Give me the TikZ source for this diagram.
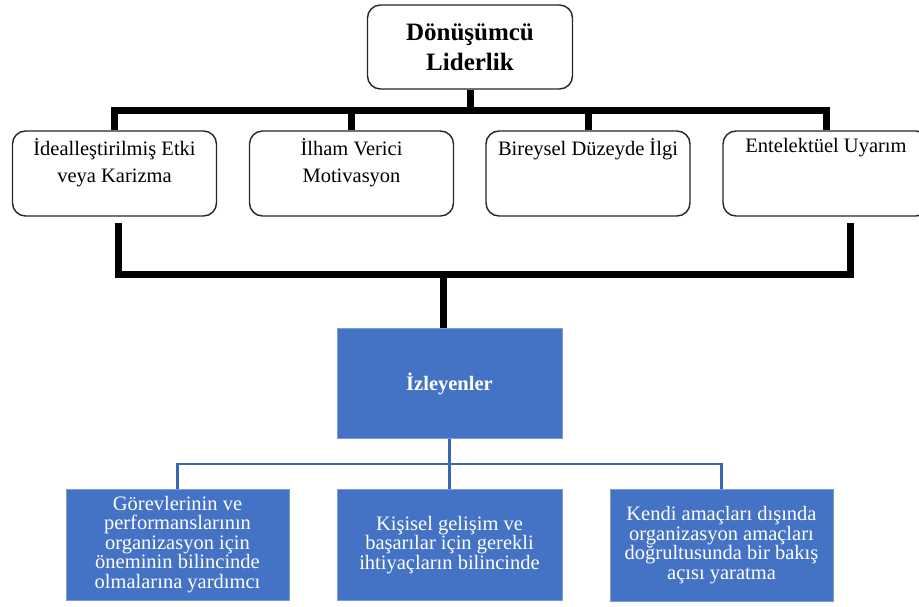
\documentclass[tikz,border=0pt]{standalone}
\usepackage{fontspec}
\newfontfamily\timesfont{Liberation Serif}
\usetikzlibrary{positioning}

\definecolor{followblue}{HTML}{4472C4}
\definecolor{lineblue}{HTML}{3F65AD}

\begin{document}
\begin{tikzpicture}[x=1pt, y=-1pt,
    leader/.style={rectangle, rounded corners=13pt, draw=black!85, line width=1.4pt, fill=white, minimum width=205pt, minimum height=84pt, align=center, font=\timesfont\fontsize{25}{30}\selectfont\bfseries},
    dim/.style={rectangle, rounded corners=13pt, draw=black!85, line width=1.4pt, fill=white, minimum width=204pt, minimum height=85pt},
    dimtext/.style={anchor=north, align=center, inner ysep=8pt, font=\timesfont\fontsize{20.5}{27}\selectfont},
    follower/.style={rectangle, draw=followblue!70!white, line width=0.8pt, fill=followblue, minimum width=225pt, minimum height=110pt, text=white, align=center, font=\timesfont\fontsize{20.5}{19.5}\selectfont},
    bus/.style={line width=7pt, black},
    link/.style={line width=2.2pt, lineblue}
]
\useasboundingbox (0,0) rectangle (919,607);

% Leader
\node[leader] (top) at (470, 47) {Dönüşümcü\\Liderlik};

% Four dimensions
\node[dim] (d1) at (114.5, 173.5) {};
\node[dim] (d2) at (351.5, 173.5) {};
\node[dim] (d3) at (588, 173.5) {};
\node[dim, minimum width=206pt] (d4) at (826, 173.5) {};
\node[dimtext] (t1) at (d1.north) {İdealleştirilmiş Etki\\veya Karizma};
\node[dimtext] (t2) at (d2.north) {İlham Verici\\Motivasyon};
\node[dimtext] (t3) at (d3.north) {Bireysel Düzeyde İlgi};
\node[dimtext] (t4) at (d4.north) {Entelektüel Uyarım};

% Followers
\node[follower, font=\timesfont\fontsize{20.5}{24}\selectfont\bfseries] (izl) at (449.5, 383.5) {İzleyenler};
\node[follower, minimum width=223pt, minimum height=111pt] (fa) at (177.5, 544.5) {Görevlerinin ve\\performanslarının\\organizasyon için\\öneminin bilincinde\\olmalarına yardımcı};
\node[follower, minimum height=111pt] (fb) at (449.5, 545) {Kişisel gelişim ve\\başarılar için gerekli\\ihtiyaçların bilincinde};
\node[follower, minimum width=223pt, minimum height=112pt] (fc) at (721.5, 545) {Kendi amaçları dışında\\organizasyon amaçları\\doğrultusunda bir bakış\\açısı yaratma};

% Upper bus
\coordinate (tj) at (470, 111);
\draw[bus] (top) -- (tj);
\foreach \d in {d1,d2,d3,d4}
    \draw[bus] (tj) -| (\d.north);

% Lower bus
\coordinate (bj) at (443, 274);
\draw[bus] ([xshift=3.5pt,yshift=-6pt]d1.south) |- (bj) -| ([xshift=24pt,yshift=-6pt]d4.south);
\draw[bus] (bj) -- (bj |- izl.north);

% Blue links
\coordinate (fj) at (449.5, 464);
\draw[link] (izl.south) -- (fj);
\foreach \f in {fa,fb,fc}
    \draw[link] (fj) -| (\f.north);

\end{tikzpicture}
\end{document}
